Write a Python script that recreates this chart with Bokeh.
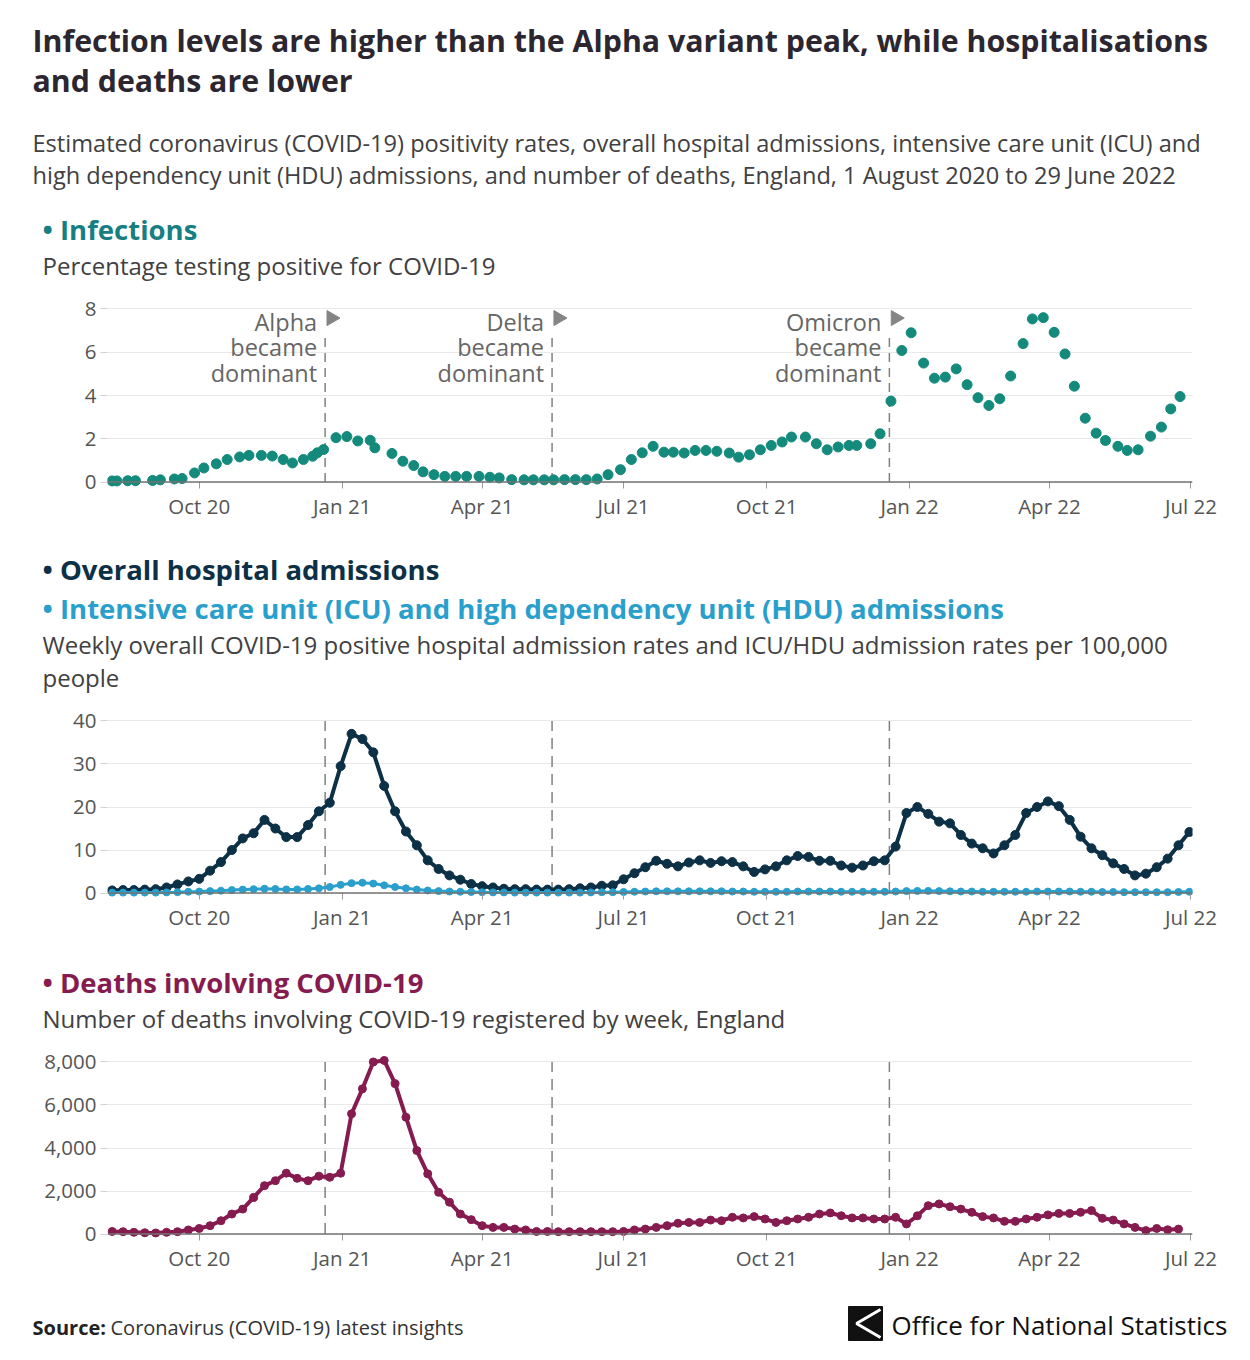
import numpy as np
import pandas as pd
from bokeh.plotting import figure
from bokeh.layouts import column
from bokeh.models import (Range1d, Label, Span, MonthsTicker, DatetimeTickFormatter,
                          FixedTicker, NumeralTickFormatter, ColumnDataSource)
from bokeh.core.properties import value
from bokeh.embed import file_html
from bokeh.resources import INLINE

FONT = "Open Sans"
W = 1250

# ---------------- data ----------------
inf_dates = [
    "2020-08-06", "2020-08-09", "2020-08-16", "2020-08-21", "2020-09-01", "2020-09-06",
    "2020-09-15", "2020-09-20", "2020-09-28", "2020-10-04", "2020-10-12", "2020-10-19",
    "2020-10-27", "2020-11-02", "2020-11-10", "2020-11-17", "2020-11-24", "2020-11-30",
    "2020-12-07", "2020-12-13", "2020-12-16", "2020-12-20", "2020-12-28", "2021-01-04",
    "2021-01-11", "2021-01-19", "2021-01-22", "2021-02-02", "2021-02-09", "2021-02-16",
    "2021-02-22", "2021-03-01", "2021-03-08", "2021-03-15", "2021-03-22", "2021-03-30",
    "2021-04-06", "2021-04-12", "2021-04-20", "2021-04-28", "2021-05-04", "2021-05-11",
    "2021-05-17", "2021-05-24", "2021-05-31", "2021-06-07", "2021-06-14", "2021-06-21",
    "2021-06-29", "2021-07-06", "2021-07-13", "2021-07-20", "2021-07-27", "2021-08-02",
    "2021-08-09", "2021-08-16", "2021-08-23", "2021-08-30", "2021-09-07", "2021-09-13",
    "2021-09-20", "2021-09-27", "2021-10-04", "2021-10-11", "2021-10-17", "2021-10-26",
    "2021-11-02", "2021-11-09", "2021-11-16", "2021-11-23", "2021-11-28", "2021-12-07",
    "2021-12-13", "2021-12-20", "2021-12-27", "2022-01-02", "2022-01-10", "2022-01-17",
    "2022-01-24", "2022-01-31", "2022-02-07", "2022-02-14", "2022-02-21", "2022-02-28",
    "2022-03-07", "2022-03-15", "2022-03-21", "2022-03-28", "2022-04-04", "2022-04-11",
    "2022-04-17", "2022-04-24", "2022-05-01", "2022-05-07", "2022-05-15", "2022-05-21",
    "2022-05-28", "2022-06-05", "2022-06-12", "2022-06-18", "2022-06-24",
]
inf_values = [
    0.05, 0.05, 0.06, 0.06, 0.07, 0.10,
    0.14, 0.16, 0.42, 0.65, 0.84, 1.04,
    1.16, 1.23, 1.23, 1.20, 1.04, 0.88,
    1.04, 1.19, 1.35, 1.50, 2.05, 2.10,
    1.90, 1.93, 1.58, 1.32, 0.96, 0.76,
    0.47, 0.34, 0.26, 0.26, 0.26, 0.26,
    0.22, 0.19, 0.11, 0.10, 0.10, 0.10,
    0.10, 0.11, 0.11, 0.11, 0.14, 0.34,
    0.57, 1.04, 1.35, 1.65, 1.38, 1.38,
    1.34, 1.46, 1.46, 1.42, 1.34, 1.15,
    1.26, 1.49, 1.69, 1.85, 2.08, 2.08,
    1.77, 1.49, 1.62, 1.69, 1.69, 1.77,
    2.23, 3.74, 6.08, 6.90, 5.50, 4.80,
    4.85, 5.23, 4.50, 3.90, 3.54, 3.85,
    4.90, 6.40, 7.54, 7.60, 6.92, 5.92,
    4.43, 2.95, 2.26, 1.92, 1.65, 1.46,
    1.49, 2.12, 2.54, 3.38, 3.95,
]

week_start = "2020-08-06"   # first weekly observation of the weekly series below

hosp_values = [
    0.6, 0.7, 0.7, 0.8, 0.9, 1.3, 2.0, 2.7, 3.3, 5.2,
    7.2, 10.0, 12.7, 13.9, 17.0, 15.0, 13.0, 13.0, 15.8, 19.0,
    21.0, 29.5, 37.0, 35.8, 32.7, 24.9, 19.0, 14.3, 11.1, 7.6,
    5.6, 4.1, 3.1, 2.1, 1.6, 1.3, 1.0, 0.9, 0.9, 0.8,
    0.8, 0.8, 0.9, 1.1, 1.3, 1.7, 1.8, 3.2, 4.6,
    6.0, 7.5, 6.8, 6.2, 7.1, 7.6, 7.0, 7.4, 7.2, 6.2,
    4.9, 5.5, 6.2, 7.6, 8.6, 8.4, 7.5, 7.5, 6.4, 5.9,
    6.4, 7.4, 7.6, 10.8, 18.6, 20.0, 18.4, 16.6, 16.2, 13.5,
    11.5, 10.4, 9.2, 11.1, 13.5, 18.6, 20.0, 21.3, 20.2, 17.0,
    13.1, 10.4, 8.8, 6.9, 5.6, 4.1, 4.5, 6.0, 8.0, 11.1,
    14.2,
]
icu_values = [
    0.1, 0.1, 0.1, 0.1, 0.1, 0.15, 0.2, 0.3, 0.35,
    0.45, 0.55, 0.7, 0.8, 0.9, 1.0, 0.95, 0.85, 0.85, 0.95, 1.1, 1.4,
    1.9, 2.3, 2.4, 2.2, 1.8, 1.4, 1.1, 0.8, 0.6, 0.45,
    0.35, 0.3, 0.25, 0.2, 0.15, 0.15, 0.1, 0.1, 0.1, 0.1, 0.1, 0.1, 0.1, 0.15, 0.2,
    0.2, 0.25, 0.3,
    0.35, 0.4, 0.4, 0.4, 0.4, 0.4, 0.4, 0.4, 0.35, 0.35, 0.3, 0.3,
    0.3, 0.3, 0.35, 0.35, 0.35, 0.35, 0.3, 0.3, 0.3, 0.3, 0.3, 0.35,
    0.45, 0.5, 0.5, 0.45, 0.4, 0.35, 0.35, 0.3, 0.3, 0.3, 0.3, 0.3, 0.35, 0.35,
    0.35, 0.35, 0.3, 0.3, 0.25, 0.25, 0.2, 0.2, 0.2, 0.2, 0.2, 0.25, 0.3,
]
deaths_values = [
    120, 110, 80, 60, 50, 80, 110, 190, 260, 390,
    620, 930, 1160, 1700, 2250, 2480, 2830, 2590, 2480, 2690,
    2640, 2830, 5590, 6750, 8000, 8070, 6990, 5430, 3880, 2800,
    1940, 1480, 930, 670, 390, 310, 310, 230, 190, 120,
    120, 110, 110, 110, 110, 110, 110, 120,
    190, 230, 310, 390, 500, 540, 540, 650, 620, 780,
    750, 810, 700, 540, 620, 700, 780, 930, 980, 850,
    750, 750, 700, 700, 780, 470, 850, 1320, 1400, 1270,
    1160, 1010, 810, 750, 590, 590, 700, 780, 890, 960,
    960, 1010, 1090, 730, 650, 470, 310, 160, 260, 200,
    230,
]

variant_names = ["Alpha", "Delta", "Omicron"]
variant_dates = ["2020-12-21", "2021-05-16", "2021-12-19"]

inf_ticks = [0, 2, 4, 6, 8]
hosp_ticks = [0, 10, 20, 30, 40]
death_ticks = [0, 2000, 4000, 6000, 8000]

# ---------------- colours ----------------
C_TITLE = "#2b2630"
C_TEXT = "#414042"
C_INF = "#138a7c"
C_INF_HEAD = "#177f82"
C_HOSP = "#0c3045"
C_ICU = "#2a9fcc"
C_DEATH = "#861b50"
C_GRID = "#e9e9e9"
C_AXIS = "#737373"
C_TICKLAB = "#555555"
C_ANNOT = "#666666"
C_DASH = "#808080"

X_START = pd.Timestamp("2020-08-03")
X_END = pd.Timestamp("2022-07-02")
FRAME_L = 107
FRAME_R = 1192


def no_align(p):
    try:
        p.frame_align = False
    except Exception:
        pass


def text_fig(top, h):
    p = figure(width=W, height=h, x_range=Range1d(0, W), y_range=Range1d(top + h, top),
               x_axis_type=None, y_axis_type=None, toolbar_location=None,
               output_backend="svg", min_border=0, min_border_left=0, min_border_right=0,
               min_border_top=0, min_border_bottom=0)
    p.grid.visible = False
    p.outline_line_color = None
    no_align(p)
    return p


def add_text(p, x, y, text, size, color=C_TEXT, bold=False):
    p.add_layout(Label(x=x, y=y, text=text, text_font=FONT, text_font_size=f"{size}px",
                       text_font_style="bold" if bold else "normal", text_color=color,
                       text_baseline="middle", text_align="left"))


def panel(h, border_top, frame_h, yr, ticks, fmt=None):
    p = figure(width=W, height=h, x_axis_type="datetime",
               x_range=Range1d(X_START, X_END), y_range=Range1d(*yr),
               toolbar_location=None, output_backend="svg",
               min_border_left=FRAME_L, min_border_right=W - FRAME_R,
               min_border_top=border_top, min_border_bottom=h - border_top - frame_h)
    no_align(p)
    p.outline_line_color = None
    p.xgrid.visible = False
    p.ygrid.ticker = FixedTicker(ticks=ticks)
    p.ygrid.grid_line_color = C_GRID
    p.ygrid.grid_line_width = 1
    p.yaxis.ticker = FixedTicker(ticks=ticks)
    p.yaxis.axis_line_color = None
    p.yaxis.major_tick_line_color = "#d2d2d2"
    p.yaxis.major_tick_out = 7
    p.yaxis.major_tick_in = 0
    p.yaxis.minor_tick_line_color = None
    p.yaxis.major_label_standoff = 4
    p.yaxis.major_label_text_font = FONT
    p.yaxis.major_label_text_font_size = "20.5px"
    p.yaxis.major_label_text_color = C_TICKLAB
    if fmt is not None:
        p.yaxis.formatter = fmt
    p.xaxis.ticker = MonthsTicker(months=[0, 3, 6, 9])
    p.xaxis.formatter = DatetimeTickFormatter(days="%b %y", months="%b %y", years="%b %y")
    p.xaxis.axis_line_color = None
    p.xaxis.major_tick_line_color = "#9a9a9a"
    p.xaxis.major_tick_in = 7
    p.xaxis.major_tick_out = 0
    p.xaxis.minor_tick_line_color = None
    p.xaxis.major_label_standoff = 3
    p.xaxis.major_label_text_font = FONT
    p.xaxis.major_label_text_font_size = "20.5px"
    p.xaxis.major_label_text_color = C_TICKLAB
    p.add_layout(Span(location=0, dimension="width", line_color=C_AXIS, line_width=1.5))
    return p


vdates = pd.to_datetime(variant_dates)

# ---------------- header ----------------
h1 = text_fig(0, 290)
add_text(h1, 32, 40, "Infection levels are higher than the Alpha variant peak, while hospitalisations", 30.3, C_TITLE, True)
add_text(h1, 32, 80, "and deaths are lower", 30.3, C_TITLE, True)
add_text(h1, 32, 142, "Estimated coronavirus (COVID-19) positivity rates, overall hospital admissions, intensive care unit (ICU) and", 23.6)
add_text(h1, 32, 174, "high dependency unit (HDU) admissions, and number of deaths, England, 1 August 2020 to 29 June 2022", 23.6)
add_text(h1, 42, 229, "• Infections", 27.5, C_INF_HEAD, True)
add_text(h1, 42, 265, "Percentage testing positive for COVID-19", 24)

# ---------------- panel 1: infections ----------------
p1 = panel(250, 12, 186, (-0.3, 8.3), inf_ticks)
src_inf = ColumnDataSource(dict(date=pd.to_datetime(inf_dates), value=inf_values))
p1.segment(x0=vdates, y0=0, x1=vdates, y1=6.85, line_color=C_DASH, line_width=1.5, line_dash="9 6")
p1.scatter(x="date", y="value", source=src_inf, size=10, color=C_INF, line_color=C_INF)
p1.scatter(x=vdates + pd.Timedelta(days=4), y=7.58, marker="triangle", size=15,
           angle=-np.pi / 2, color="#858585")
for name, d in zip(variant_names, vdates):
    p1.text(x=[d, d, d], y=[7.42, 6.22, 5.02], text=[name, "became", "dominant"],
            text_align="right", text_baseline="middle", x_offset=-8,
            text_font=value(FONT), text_font_size="23.5px", text_color=C_ANNOT)

# ---------------- header 2 ----------------
h2 = text_fig(540, 160)
add_text(h2, 42, 569, "• Overall hospital admissions", 27.5, C_HOSP, True)
add_text(h2, 42, 608, "• Intensive care unit (ICU) and high dependency unit (HDU) admissions", 27.5, C_ICU, True)
add_text(h2, 42, 644, "Weekly overall COVID-19 positive hospital admission rates and ICU/HDU admission rates per 100,000", 24)
add_text(h2, 42, 677, "people", 24)

# ---------------- panel 2: hospital ----------------
weeks_h = pd.date_range(week_start, periods=len(hosp_values), freq="7D")
p2 = panel(250, 14, 185, (-1.5, 41.5), hosp_ticks)
p2.segment(x0=vdates, y0=0, x1=vdates, y1=40, line_color=C_DASH, line_width=1.5, line_dash="11 7")
src_h = ColumnDataSource(dict(date=weeks_h, hosp=hosp_values, icu=icu_values))
p2.line(x="date", y="hosp", source=src_h, line_color=C_HOSP, line_width=4)
p2.scatter(x="date", y="hosp", source=src_h, size=9, color=C_HOSP)
p2.line(x="date", y="icu", source=src_h, line_color=C_ICU, line_width=3)
p2.scatter(x="date", y="icu", source=src_h, size=7, color=C_ICU)

# ---------------- header 3 ----------------
h3 = text_fig(950, 95)
add_text(h3, 42, 982, "• Deaths involving COVID-19", 27.5, C_DEATH, True)
add_text(h3, 42, 1018, "Number of deaths involving COVID-19 registered by week, England", 24)

# ---------------- panel 3: deaths ----------------
weeks_d = pd.date_range(week_start, periods=len(deaths_values), freq="7D")
p3 = panel(245, 10, 185, (-300, 8300), death_ticks, NumeralTickFormatter(format="0,0"))
p3.segment(x0=vdates, y0=0, x1=vdates, y1=8000, line_color=C_DASH, line_width=1.5, line_dash="11 7")
src_d = ColumnDataSource(dict(date=weeks_d, deaths=deaths_values))
p3.line(x="date", y="deaths", source=src_d, line_color=C_DEATH, line_width=4)
p3.scatter(x="date", y="deaths", source=src_d, size=8, color=C_DEATH)

# ---------------- footer ----------------
f = text_fig(1290, 60)
add_text(f, 32, 1327, "Source:", 20, "#222222", True)
add_text(f, 110, 1327, "Coronavirus (COVID-19) latest insights", 20, "#333333")
f.quad(left=848, right=882, top=1306, bottom=1340, color="#111111")
f.line(x=[880, 856, 880], y=[1309, 1323, 1337], line_color="white", line_width=3)
add_text(f, 891, 1324, "Office for National Statistics", 26, "#111111")

layout = column(h1, p1, h2, p2, h3, p3, f, spacing=0)
open("out.html", "w").write(file_html(layout, INLINE))
